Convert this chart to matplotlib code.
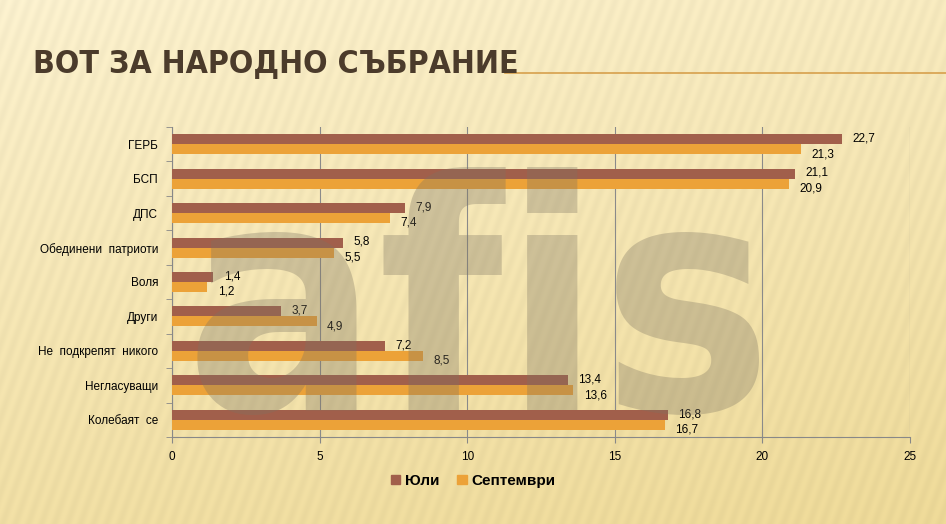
import numpy as np
import matplotlib
matplotlib.use("Agg")
import matplotlib.pyplot as plt
from matplotlib.patches import Patch
from matplotlib.lines import Line2D

categories = ["ГЕРБ", "БСП", "ДПС", "Обединени  патриоти", "Воля", "Други",
              "Не  подкрепят  никого", "Негласуващи", "Колебаят  се"]
july = [22.7, 21.1, 7.9, 5.8, 1.4, 3.7, 7.2, 13.4, 16.8]
september = [21.3, 20.9, 7.4, 5.5, 1.2, 4.9, 8.5, 13.6, 16.7]
series_names = ["Юли", "Септември"]
xticks = [0, 5, 10, 15, 20, 25]
title = "ВОТ ЗА НАРОДНО СЪБРАНИЕ"

c_july = "#a15f4b"
c_sep = "#eca238"

W, H = 946, 524
fig = plt.figure(figsize=(W / 100, H / 100), dpi=100)

# background
bg = fig.add_axes([0, 0, 1, 1], zorder=-10)
yy, xx = np.mgrid[0:H, 0:W]
base = np.zeros((H, W, 3))
t = np.clip(0.75 * yy / H + 0.25 * xx / W, 0, 1) ** 0.9
c1 = np.array([0.995, 0.955, 0.82])
c2 = np.array([0.94, 0.86, 0.60])
for k in range(3):
    base[..., k] = c1[k] * (1 - t) + c2[k] * t
stripe = 0.5 + 0.5 * np.sin((xx + 0.35 * yy) * 2 * np.pi / 13)
base = base * (1 - 0.03 * stripe[..., None])
bg.imshow(np.clip(base, 0, 1), extent=[0, 1, 0, 1], aspect="auto")
bg.set_axis_off()

ax = fig.add_axes([172 / W, 1 - 437 / H, (910 - 172) / W, (437 - 127) / H])
ax.patch.set_alpha(0)

n = len(categories)
y = np.arange(n)
h = 0.29
ax.barh(y - h / 2, july, height=h, color=c_july, zorder=3)
ax.barh(y + h / 2, september, height=h, color=c_sep, zorder=3)

ax.set_ylim(n - 0.5, -0.5)
ax.set_xlim(0, 25)
ax.set_xticks(xticks)
ax.set_xticklabels([str(v) for v in xticks], fontsize=8.5, family="Liberation Sans")
ax.set_yticks(y)
ax.set_yticklabels(categories, fontsize=8.5, family="Liberation Sans")
ax.set_yticks(np.arange(-0.5, n, 1), minor=True)
ax.tick_params(axis="y", which="major", length=0, pad=10)
ax.tick_params(axis="y", which="minor", length=4, color="#888888")
ax.tick_params(axis="x", length=4, color="#888888", pad=6)
ax.grid(axis="x", color="#8a8a8a", linewidth=0.8, zorder=1)
for s in ["top", "right"]:
    ax.spines[s].set_visible(False)
for s in ["left", "bottom"]:
    ax.spines[s].set_color("#888888")
    ax.spines[s].set_linewidth(0.8)

def fmt(v):
    return ("%.1f" % v).replace(".", ",")

for i in range(n):
    ax.text(july[i] + 0.35, i - h / 2 - 0.02, fmt(july[i]), fontsize=8.5,
            family="Liberation Sans", va="center", ha="left", zorder=5)
    ax.text(september[i] + 0.35, i + h / 2 + 0.14, fmt(september[i]), fontsize=8.5,
            family="Liberation Sans", va="center", ha="left", zorder=5)

# watermark (logo)
fig.text(185 / W, 1 - 410 / H, "afis", fontsize=230, fontweight="bold", fontstretch="condensed",
         color="#7d7462", alpha=0.33, family="DejaVu Sans", zorder=20, ha="left", va="baseline")

# legend
handles = [Patch(color=c_july), Patch(color=c_sep)]
leg = fig.legend(handles, series_names, loc="center", bbox_to_anchor=(0.5, 1 - 481 / H),
                 ncol=2, frameon=False, prop={"family": "Liberation Sans", "weight": "bold", "size": 11},
                 handlelength=0.6, handleheight=0.6, handletextpad=0.3, columnspacing=1.2)

# title
fig.text(33 / W, 1 - 72 / H, title, fontsize=23, color="#4b3b2b", fontweight="bold",
         fontstretch="condensed", family="DejaVu Sans", ha="left", va="baseline")
fig.add_artist(Line2D([505 / W, 1], [1 - 73 / H, 1 - 73 / H], color="#d7a04c", linewidth=1.2))

fig.savefig("out.png", dpi=100)
